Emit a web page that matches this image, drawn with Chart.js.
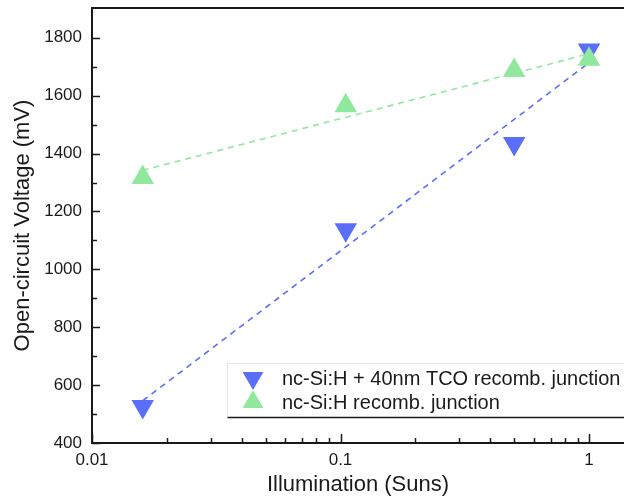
<!DOCTYPE html>
<html lang="en">
<head>
<meta charset="utf-8">
<script src="https://cdn.jsdelivr.net/npm/chart.js@4.4.1/dist/chart.umd.min.js"></script>
<style>
  html, body { margin: 0; padding: 0; background: #fff; }
  .chart_box { width: 624px; height: 500px; position: relative; }
</style>
</head>
<body>
<div class="chart_box"><canvas id="vocChart"></canvas></div>
<script>
const illumination = [0.016, 0.105, 0.5, 1];
const vocTco = [526, 1137, 1435, 1758];
const vocRecomb = [1317, 1565, 1687, 1726];

// dashed fit lines, end points
const fitX = [0.016, 1];
const fitTco = [546, 1714];
const fitRecomb = [1342, 1745];

const seriesNames = ['nc-Si:H + 40nm TCO recomb. junction', 'nc-Si:H recomb. junction'];

// axis ticks
const xTickLabels = [0.01, 0.1, 1];
const xMinorTicks = [0.02, 0.03, 0.04, 0.05, 0.06, 0.07, 0.08, 0.09, 0.2, 0.3, 0.4, 0.5, 0.6, 0.7, 0.8, 0.9];
const yTickLabels = [400, 600, 800, 1000, 1200, 1400, 1600, 1800];
const yMinorTicks = [500, 700, 900, 1100, 1300, 1500, 1700];

const BLUE = '#5a6ef8';
const GREEN = '#8fe89b';
const INK = '#1a1a1a';
const FONT = '"Liberation Sans", Arial, sans-serif';

function pts(xs, ys) { return xs.map((x, i) => ({ x: x, y: ys[i] })); }

// no extra room for edge labels, the plot runs to the right edge
function noPad(s) { s.paddingTop = 0; s.paddingBottom = 0; s.paddingLeft = 0; s.paddingRight = 0; }

// inward ticks, top frame line, legend in the lower right
const frameAndLegend = {
    id: 'frameAndLegend',
    afterDraw(chart) {
        const ctx = chart.ctx;
        const a = chart.chartArea;
        const xs = chart.scales.x, ys = chart.scales.y;
        ctx.save();
        ctx.strokeStyle = INK;
        ctx.lineWidth = 1.5;
        ctx.beginPath();
        xTickLabels.forEach(v => { const p = Math.round(xs.getPixelForValue(v)) + 0.5; ctx.moveTo(p, a.bottom); ctx.lineTo(p, a.bottom - 9); });
        xMinorTicks.forEach(v => { const p = Math.round(xs.getPixelForValue(v)) + 0.5; ctx.moveTo(p, a.bottom); ctx.lineTo(p, a.bottom - 5); });
        yTickLabels.forEach(v => { const p = Math.round(ys.getPixelForValue(v)) + 0.5; ctx.moveTo(a.left, p); ctx.lineTo(a.left + 8, p); });
        yMinorTicks.forEach(v => { const p = Math.round(ys.getPixelForValue(v)) + 0.5; ctx.moveTo(a.left, p); ctx.lineTo(a.left + 5, p); });
        ctx.stroke();

        // top frame
        ctx.lineWidth = 2;
        ctx.beginPath();
        ctx.moveTo(a.left - 1, a.top);
        ctx.lineTo(a.right, a.top);
        ctx.stroke();

        // legend box
        const lx = 227.5, ltop = 363.5, lbot = 417.5;
        ctx.fillStyle = '#fff';
        ctx.fillRect(lx, ltop, a.right - lx, lbot - ltop);
        ctx.strokeStyle = '#e6e6e6';
        ctx.lineWidth = 1;
        ctx.beginPath();
        ctx.moveTo(lx, lbot); ctx.lineTo(lx, ltop); ctx.lineTo(a.right, ltop);
        ctx.stroke();
        ctx.strokeStyle = INK;
        ctx.lineWidth = 1.5;
        ctx.beginPath();
        ctx.moveTo(lx, lbot); ctx.lineTo(a.right, lbot);
        ctx.stroke();

        const rows = [
            { y: 378, color: BLUE, rot: 180, text: seriesNames[0] },
            { y: 402, color: GREEN, rot: 0, text: seriesNames[1] }
        ];
        ctx.font = '20px ' + FONT;
        ctx.textBaseline = 'middle';
        ctx.textAlign = 'left';
        rows.forEach(r => {
            ctx.fillStyle = r.color;
            Chart.helpers.drawPoint(ctx, { pointStyle: 'triangle', rotation: r.rot, radius: 12, borderWidth: 0 }, 253, r.y);
            ctx.fillStyle = INK;
            ctx.fillText(r.text, 282, r.y + 1);
        });
        ctx.restore();
    }
};

const ctx = document.getElementById('vocChart').getContext('2d');
const vocChart = new Chart(ctx, {
    type: 'scatter',
    data: {
        datasets: [
            {
                label: seriesNames[0],
                data: pts(illumination, vocTco),
                pointStyle: 'triangle',
                rotation: 180,
                radius: 13,
                hoverRadius: 13,
                backgroundColor: BLUE,
                borderColor: BLUE,
                borderWidth: 0,
                order: 1
            },
            {
                label: seriesNames[1],
                data: pts(illumination, vocRecomb),
                pointStyle: 'triangle',
                radius: 13,
                hoverRadius: 13,
                backgroundColor: GREEN,
                borderColor: GREEN,
                borderWidth: 0,
                order: 0
            },
            {
                label: 'fit TCO',
                data: pts(fitX, fitTco),
                showLine: true,
                borderColor: BLUE,
                borderWidth: 1.6,
                borderDash: [6, 5],
                pointRadius: 0,
                order: 3
            },
            {
                label: 'fit recomb',
                data: pts(fitX, fitRecomb),
                showLine: true,
                borderColor: GREEN,
                borderWidth: 1.6,
                borderDash: [6, 5],
                pointRadius: 0,
                order: 2
            }
        ]
    },
    options: {
        responsive: true,
        maintainAspectRatio: false,
        animation: false,
        layout: { autoPadding: false, padding: { top: 8, right: 0, bottom: 0, left: 0 } },
        plugins: {
            legend: { display: false },
            tooltip: { enabled: false }
        },
        scales: {
            x: {
                type: 'logarithmic',
                min: 0.01,
                max: 1.383,
                afterBuildTicks: s => { s.ticks = xTickLabels.map(v => ({ value: v })); },
                afterFit: s => { s.height = 57; noPad(s); },
                grid: { display: false, drawTicks: false },
                border: { display: true, color: INK, width: 2 },
                ticks: {
                    autoSkip: false,
                    maxRotation: 0,
                    padding: 7,
                    color: INK,
                    font: { family: FONT, size: 17 },
                    callback: v => String(v)
                },
                title: {
                    display: true,
                    text: 'Illumination (Suns)',
                    color: INK,
                    font: { family: FONT, size: 22 },
                    padding: { top: 0, bottom: 2 }
                }
            },
            y: {
                min: 400,
                max: 1903,
                afterBuildTicks: s => { s.ticks = yTickLabels.map(v => ({ value: v })); },
                afterFit: s => { s.width = 92; noPad(s); },
                grid: { display: false, drawTicks: false },
                border: { display: true, color: INK, width: 2 },
                ticks: {
                    padding: 10,
                    color: INK,
                    font: { family: FONT, size: 17 },
                    callback: v => String(v)
                },
                title: {
                    display: true,
                    text: 'Open-circuit Voltage (mV)',
                    color: INK,
                    font: { family: FONT, size: 22 },
                    padding: { top: 10, bottom: 0 }
                }
            }
        }
    },
    plugins: [frameAndLegend]
});
</script>
</body>
</html>
